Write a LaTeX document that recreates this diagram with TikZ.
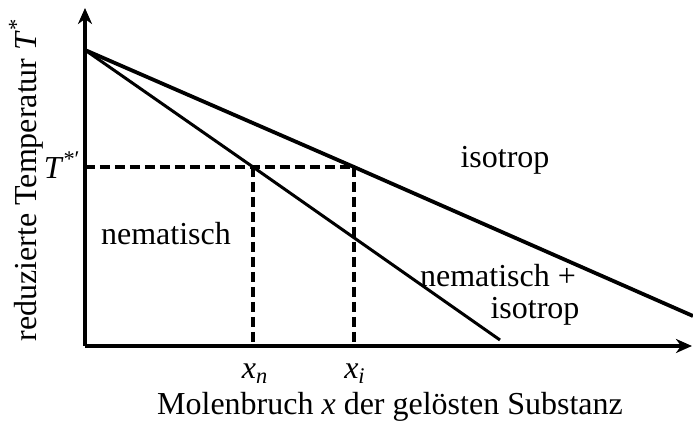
\documentclass[tikz,border=0pt]{standalone}
\usepackage{fontspec}
\setmainfont{Liberation Serif}
\usetikzlibrary{arrows.meta,positioning}

\begin{document}
\begin{tikzpicture}[x=0.5pt,y=-0.5pt,
  axis/.style={line width=1.8pt,-{Stealth[length=8pt,width=7pt,inset=2.5pt]}},
  phase/.style={line width=1.9pt},
  guide/.style={line width=1.8pt,dash pattern=on 5pt off 2.5pt},
  lbl/.style={font=\fontsize{16}{19}\selectfont,inner sep=0pt}]
\useasboundingbox (0,0) rectangle (693,426);

% axes
\coordinate (o) at (85,346);
\coordinate (ytop) at (85,8);
\coordinate (xend) at (692,346);
\draw[axis] (o) -- (ytop);
\draw[axis] (o) -- (xend);

% phase lines
\coordinate (start) at (85,50);
\coordinate (pi) at (354,167);
\coordinate (pn) at (253,167);
\coordinate (iend) at (693,316);
\coordinate (nend) at (500,340);
\coordinate (ty) at (85,167);
\coordinate (xn) at (253,346);
\coordinate (xi) at (354,346);
\draw[phase] (start) -- (pi) -- (iend);
\draw[phase,line width=1.5pt] (start) -- (pn) -- (nend);

\draw[guide] (ty) -- (pi);
\draw[guide] (pn) -- (xn);
\draw[guide] (pi) -- (xi);

% labels
\node[lbl,anchor=east] (tlab) at (81,165) {\textit{T}\textsuperscript{*′}};
\node[lbl] (xnlab) at (255,374) {\textit{x}\textsubscript{\textit{n}}};
\node[lbl] (xilab) at (355,374) {\textit{x}\textsubscript{\textit{i}}};
\node[lbl] (xlab) at (390,407) {Molenbruch \textit{x} der gelösten Substanz};
\node[lbl,rotate=90] (ylab) at (26,180) {reduzierte Temperatur \textit{T}\textsuperscript{*}};
\node[lbl] (iso) at (505,160) {isotrop};
\node[lbl] (nem) at (166,234) {nematisch};
\node[lbl] (mix) at (498,276) {nematisch +};
\node[lbl] (mix2) at (535,311) {isotrop};
\end{tikzpicture}
\end{document}
